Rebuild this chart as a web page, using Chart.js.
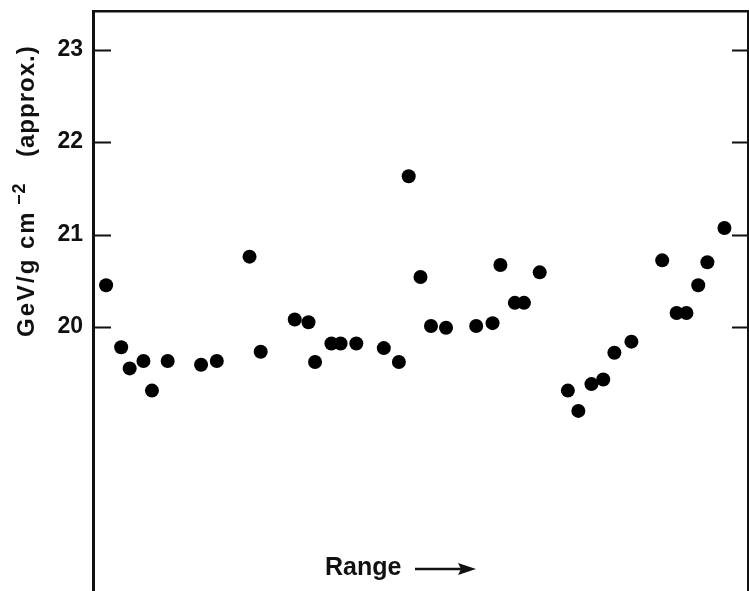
<!DOCTYPE html>
<html>
<head>
<meta charset="utf-8">
<title>Energy loss vs range</title>
<script src="https://cdn.jsdelivr.net/npm/chart.js@4.4.1/dist/chart.umd.min.js"></script>
<style>
    html, body { margin: 0; padding: 0; background: #ffffff; overflow: hidden; }
    canvas { display: block; }
</style>
</head>
<body>
<canvas id="rangeChart" width="749" height="591"></canvas>
<script>
// Data (x is position along the range, arbitrary units 0-100)
const rangePos = [2.0, 4.3, 5.6, 7.7, 9.0, 11.4, 16.5, 18.9, 23.9, 25.6,
    30.8, 32.9, 33.9, 36.4, 37.8, 40.2, 44.4, 46.7, 48.2, 50.0,
    51.6, 53.9, 58.5, 61.0, 62.2, 64.4, 65.8, 68.2, 72.5, 74.1,
    76.1, 77.9, 79.6, 82.2, 86.9, 89.1, 90.6, 92.4, 93.8, 96.4];
const energyValues = [20.45, 19.78, 19.55, 19.63, 19.31, 19.63, 19.59, 19.63, 20.76, 19.73,
    20.08, 20.05, 19.62, 19.82, 19.82, 19.82, 19.77, 19.62, 21.63, 20.54,
    20.01, 19.99, 20.01, 20.04, 20.67, 20.26, 20.26, 20.59, 19.31, 19.09,
    19.38, 19.43, 19.72, 19.84, 20.72, 20.15, 20.15, 20.45, 20.70, 21.07];
const yTickValues = [20, 21, 22, 23];
const yRange = [17.14, 23.42];
const xRange = [0, 100];

const INK = '#111111';

// no extra label padding around the scales
function noPad(s) {
    s.paddingTop = 0;
    s.paddingBottom = 0;
    s.paddingLeft = 0;
    s.paddingRight = 0;
}

// Title, x label and inward tick marks
const decorPlugin = {
    id: 'decor',
    afterDraw(chart) {
        const ctx = chart.ctx;
        const area = chart.chartArea;
        const yScale = chart.scales.y;

        // inward ticks on both sides
        ctx.save();
        ctx.strokeStyle = INK;
        ctx.lineWidth = 2;
        yScale.ticks.forEach(t => {
            const py = Math.round(yScale.getPixelForValue(t.value)) + 0.5;
            ctx.beginPath();
            ctx.moveTo(area.left, py);
            ctx.lineTo(area.left + 18, py);
            ctx.moveTo(area.right - 16, py);
            ctx.lineTo(area.right, py);
            ctx.stroke();
        });
        ctx.restore();

        // rotated y title
        ctx.save();
        ctx.fillStyle = INK;
        ctx.translate(34, 337);
        ctx.rotate(-Math.PI / 2);
        ctx.textBaseline = 'alphabetic';
        ctx.textAlign = 'left';
        ctx.font = 'bold 24px "Liberation Sans", Arial, sans-serif';
        if ('letterSpacing' in ctx) ctx.letterSpacing = '2px';
        ctx.fillText('GeV/g cm', 0, 0);
        ctx.font = 'bold 18px "Liberation Sans", Arial, sans-serif';
        if ('letterSpacing' in ctx) ctx.letterSpacing = '1px';
        ctx.fillText('\u22122', 132, -9);
        ctx.font = 'bold 24px "Liberation Sans", Arial, sans-serif';
        ctx.fillText('(approx.)', 180, 0);
        ctx.restore();

        // "Range ->" label
        ctx.save();
        ctx.fillStyle = INK;
        ctx.strokeStyle = INK;
        ctx.font = 'bold 25px "Liberation Sans", Arial, sans-serif';
        ctx.textBaseline = 'alphabetic';
        ctx.textAlign = 'left';
        ctx.fillText('Range', 325, 575);
        ctx.lineWidth = 2.5;
        ctx.beginPath();
        ctx.moveTo(415, 569);
        ctx.lineTo(462, 569);
        ctx.stroke();
        ctx.beginPath();
        ctx.moveTo(476, 569);
        ctx.lineTo(458, 563);
        ctx.lineTo(461, 569);
        ctx.lineTo(458, 575);
        ctx.closePath();
        ctx.fill();
        ctx.restore();
    }
};

const chart = new Chart(document.getElementById('rangeChart'), {
    type: 'scatter',
    data: {
        datasets: [{
            data: rangePos.map((x, i) => ({ x: x, y: energyValues[i] })),
            backgroundColor: '#000000',
            borderColor: '#000000',
            pointRadius: 7,
            pointHoverRadius: 7,
            borderWidth: 0
        }]
    },
    options: {
        responsive: false,
        animation: false,
        events: [],
        layout: { autoPadding: false, padding: { top: 11, right: 0, bottom: 0, left: 0 } },
        plugins: {
            legend: { display: false },
            tooltip: { enabled: false }
        },
        scales: {
            x: {
                type: 'linear',
                min: xRange[0],
                max: xRange[1],
                display: false
            },
            x2: {
                type: 'linear',
                position: 'top',
                min: xRange[0],
                max: xRange[1],
                ticks: { display: false },
                grid: { drawOnChartArea: false, drawTicks: false },
                border: { display: true, color: INK, width: 2.5 },
                afterFit: s => { s.height = 0; noPad(s); }
            },
            y: {
                min: yRange[0],
                max: yRange[1],
                afterBuildTicks: s => { s.ticks = yTickValues.map(v => ({ value: v })); },
                ticks: {
                    color: INK,
                    padding: 10,
                    font: { family: '"Liberation Sans", Arial, sans-serif', size: 23, weight: 'bold' }
                },
                grid: { drawOnChartArea: false, drawTicks: false },
                border: { display: true, color: INK, width: 3 },
                afterFit: s => { s.width = 93; noPad(s); }
            },
            y2: {
                position: 'right',
                min: yRange[0],
                max: yRange[1],
                ticks: { display: false },
                grid: { drawOnChartArea: false, drawTicks: false },
                border: { display: true, color: INK, width: 2 },
                afterFit: s => { s.width = 1; noPad(s); }
            }
        }
    },
    plugins: [decorPlugin]
});
</script>
</body>
</html>
